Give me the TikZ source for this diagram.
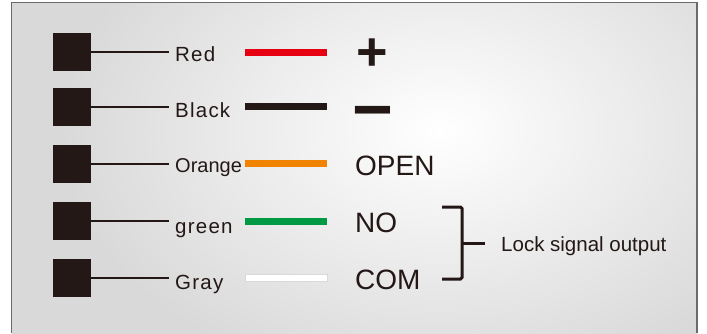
\documentclass[tikz,border=0pt]{standalone}
\usepackage{fontspec}
\setmainfont{Liberation Sans}

\definecolor{ink}{HTML}{231815}
\definecolor{wirered}{HTML}{E60012}
\definecolor{wireorange}{HTML}{F08300}
\definecolor{wiregreen}{HTML}{009944}
\definecolor{panel}{HTML}{D9D9D9}
\definecolor{rim}{HTML}{6A6A6A}

\begin{document}
\begin{tikzpicture}[x=1pt, y=-1pt,
    terminal/.style={rectangle, fill=ink, minimum size=38pt, inner sep=0pt},
    wire/.style={draw=ink, line width=1.8pt},
    strip/.style={rectangle, minimum width=82pt, minimum height=7pt, inner sep=0pt},
    wirename/.style={anchor=base west, inner xsep=6pt, inner ysep=0pt,
        font=\fontsize{20.5}{24}\selectfont\addfontfeature{LetterSpace=6}, text=ink},
    signal/.style={anchor=base west, inner sep=0pt,
        font=\fontsize{28}{32}\selectfont, text=ink},
    sign/.style={anchor=base, inner sep=0pt, text=ink},
    brace/.style={draw=ink, line width=3pt, rounded corners=1.5pt}
]
    \useasboundingbox (0,0) rectangle (707,333);
    % panel
    \fill[white] (0,0) rectangle (707,333);
    \begin{scope}
        \clip (11.5,2.5) rectangle (697,340);
        \fill[panel] (11.5,2.5) rectangle (697,340);
        \shade[inner color=white, outer color=panel] (440,130) ellipse (380 and 260);
    \end{scope}
    \draw[rim, line width=1.5pt] (11.5,333) |- (697,2.5) -- (697,333);

    % terminals
    \node[terminal] (t1) at (72,52) {};
    \node[terminal] (t2) at (72,107) {};
    \node[terminal] (t3) at (72,164) {};
    \node[terminal] (t4) at (72,221) {};
    \node[terminal] (t5) at (72,278) {};

    % wire names
    \node[wirename] (n1) at (169,61) {Red};
    \node[wirename] (n2) at (169,117) {Black};
    \node[wirename, font=\fontsize{20}{24}\selectfont] (n3) at (169,172) {Orange};
    \node[wirename] (n4) at (169,233) {green};
    \node[wirename] (n5) at (169,289) {Gray};
    \draw[wire] (t1.east) -- (t1.east -| n1.west);
    \draw[wire] (t2.east) -- (t2.east -| n2.west);
    \draw[wire] (t3.east) -- (t3.east -| n3.west);
    \draw[wire] (t4.east) -- (t4.east -| n4.west);
    \draw[wire] (t5.east) -- (t5.east -| n5.west);

    % colour strips
    \node[strip, fill=wirered] (c1) at (286,52) {};
    \node[strip, fill=ink] (c2) at (286,106.7) {};
    \node[strip, fill=wireorange] (c3) at (286,163.3) {};
    \node[strip, fill=wiregreen] (c4) at (286,221.7) {};
    \node[strip, fill=white, draw=black!15, line width=0.8pt] (c5) at (286,278) {};

    % functions
    \node[sign, font=\fontsize{54}{60}\selectfont\bfseries] (plus) at (372.5,70) {+};
    \node[sign, font=\fontsize{70}{80}\selectfont\bfseries] (minus) at (372.5,133.6) {−};
    \node[signal] (open) at (355,175) {OPEN};
    \node[signal] (no) at (355,232.7) {NO};
    \node[signal] (com) at (355,289.3) {COM};

    % lock signal bracket
    \node[anchor=base west, inner sep=0pt, text=ink,
        font=\fontsize{20.5}{24}\selectfont] (lock) at (501,251.7) {Lock signal output};
    \coordinate (brtop) at (442,207);
    \coordinate (brmid) at (462,243);
    \coordinate (brbot) at (442,279);
    \draw[brace] (brtop) -| (brmid) |- (brbot);
    \draw[brace] (brmid) -- (485,243);
\end{tikzpicture}
\end{document}
